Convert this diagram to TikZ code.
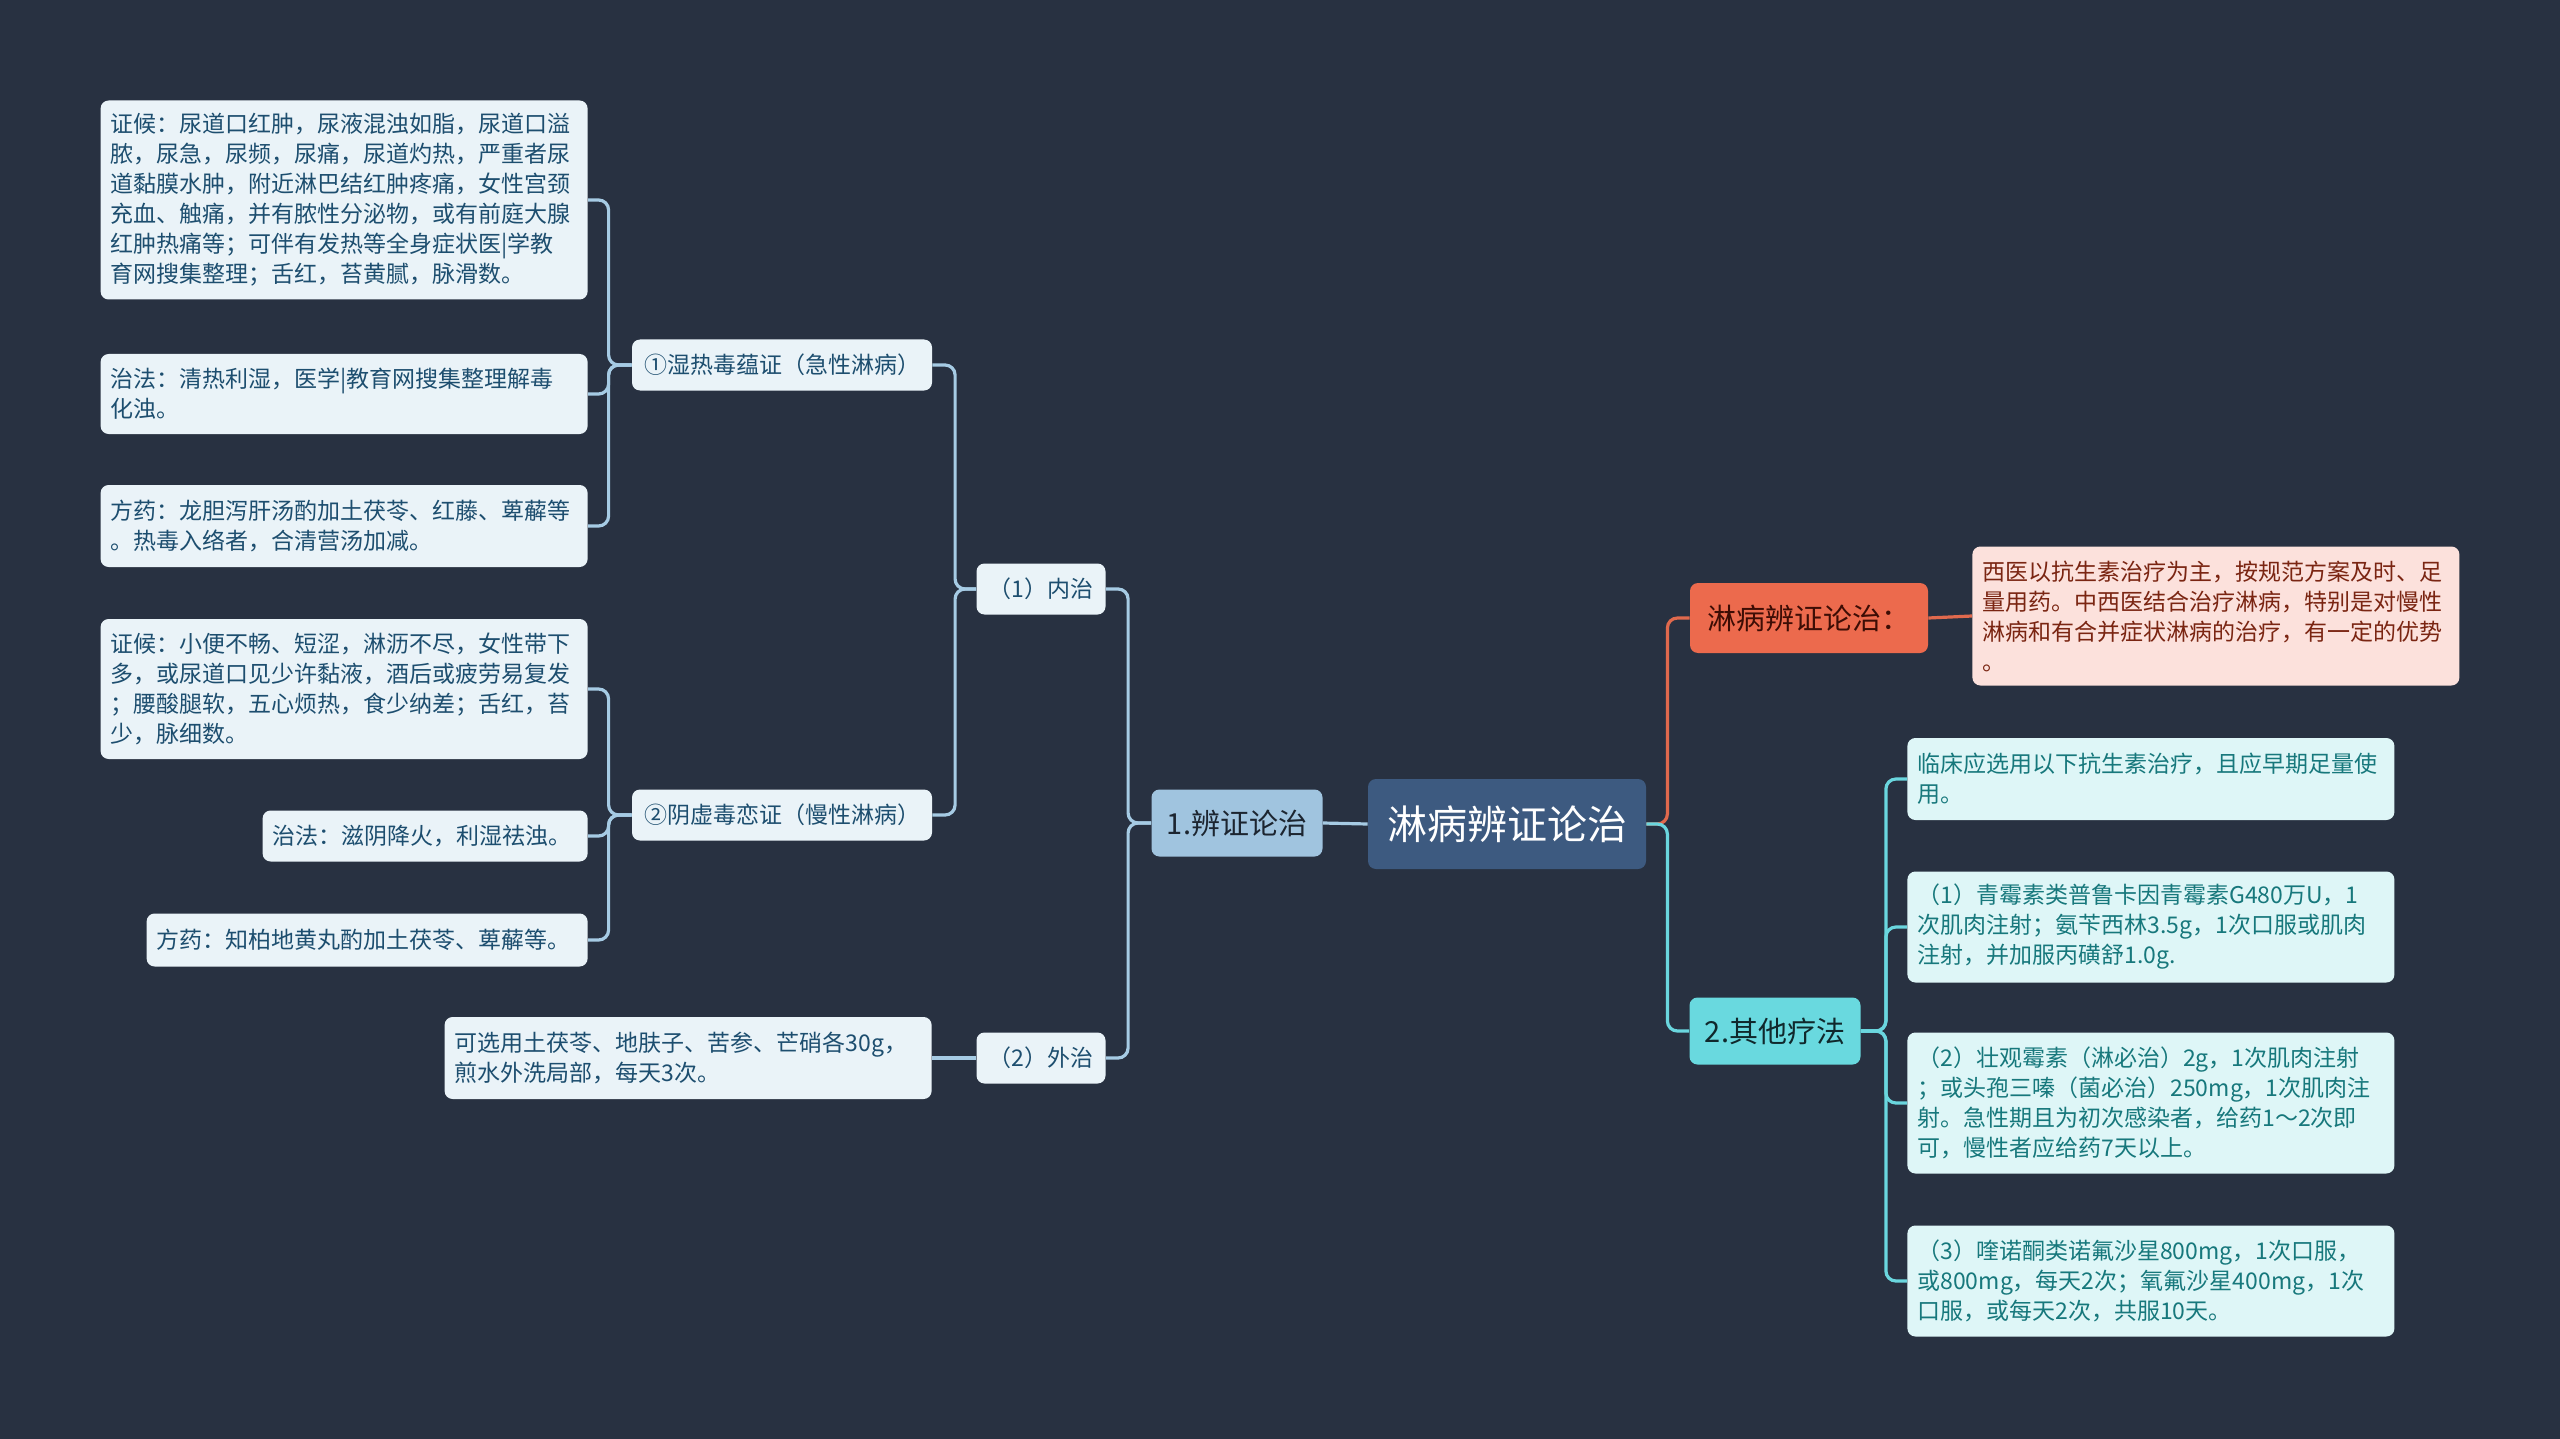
\documentclass[tikz,border=0pt]{standalone}
\usepackage{fontspec}
\setmainfont{Noto Sans CJK SC}
\usetikzlibrary{positioning}
\definecolor{bgcol}{HTML}{283141}
\definecolor{rootfill}{HTML}{3D5A80}
\definecolor{mainfill}{HTML}{A0C4DF}
\definecolor{maintext}{HTML}{1C2530}
\definecolor{leaffill}{HTML}{EAF3F8}
\definecolor{leaftext}{HTML}{1D4E6F}
\definecolor{linecol}{HTML}{A6CBE4}
\definecolor{orgfill}{HTML}{EC6A4D}
\definecolor{orgtext}{HTML}{3D0D05}
\definecolor{orgline}{HTML}{E0694D}
\definecolor{pinkfill}{HTML}{FCE1DC}
\definecolor{pinktext}{HTML}{7A2512}
\definecolor{cyanfill}{HTML}{69D9DF}
\definecolor{cyantext}{HTML}{10282C}
\definecolor{cyanline}{HTML}{6AD6DE}
\definecolor{tealfill}{HTML}{DEF6F7}
\definecolor{tealtext}{HTML}{17787C}
\tikzset{
  mmroot/.style  = {fill=rootfill, rounded corners=4pt, text=white,
                    font=\fontsize{20}{24}\selectfont, inner sep=0pt,
                    minimum width=139pt, minimum height=45pt},
  mmmain/.style  = {rounded corners=4pt, inner sep=0pt, minimum height=33.5pt,
                    font=\fontsize{14.5}{18}\selectfont},
  mmsub/.style   = {fill=leaffill, text=leaftext, rounded corners=4pt,
                    inner sep=0pt, minimum height=25.5pt,
                    font=\fontsize{11.5}{15}\selectfont},
  mmleaf/.style  = {fill=leaffill, text=leaftext, rounded corners=4pt,
                    inner xsep=5pt, inner ysep=4pt, align=left,
                    text width=233.5pt, font=\fontsize{11.5}{15}\selectfont},
  mmline/.style  = {line width=1.6pt, rounded corners=5pt, draw=linecol}
}

\begin{document}
\begin{tikzpicture}[x=0.5pt, y=-0.5pt]
  \fill[bgcol] (0,0) rectangle (2560,1439);
  \useasboundingbox (0,0) rectangle (2560,1439);

  % centre and first level
  \node[mmroot] (root) at (1507,824) {淋病辨证论治};
  \node[mmmain, fill=mainfill, text=maintext, minimum width=85.5pt] (bz) at (1237,823) {1.辨证论治};
  \node[mmmain, fill=orgfill, text=orgtext, minimum width=119pt, minimum height=35pt] (lb) at (1809,618) {淋病辨证论治：};
  \node[mmmain, fill=cyanfill, text=cyantext, minimum width=85.5pt] (qt) at (1775,1031) {2.其他疗法};

  % left branch
  \node[mmsub, minimum width=64.5pt] (nz) at (1041,589)  {（1）内治};
  \node[mmsub, minimum width=64.5pt] (wz) at (1041,1058) {（2）外治};
  \node[mmsub, minimum width=150pt]  (sr) at (782,365)  {①湿热毒蕴证（急性淋病）};
  \node[mmsub, minimum width=150pt]  (yx) at (782,815)  {②阴虚毒恋证（慢性淋病）};

  \node[mmleaf, anchor=east, minimum height=99.5pt] (srzh) at (588,200)
        {证候：尿道口红肿，尿液混浊如脂，尿道口溢\\
         脓，尿急，尿频，尿痛，尿道灼热，严重者尿\\
         道黏膜水肿，附近淋巴结红肿疼痛，女性宫颈\\
         充血、触痛，并有脓性分泌物，或有前庭大腺\\
         红肿热痛等；可伴有发热等全身症状医|学教\\
         育网搜集整理；舌红，苔黄腻，脉滑数。};
  \node[mmleaf, anchor=east, minimum height=40pt] (srzf) at (588,394)
        {治法：清热利湿，医学|教育网搜集整理解毒\\化浊。};
  \node[mmleaf, anchor=east, minimum height=41pt] (srfy) at (588,526)
        {方药：龙胆泻肝汤酌加土茯苓、红藤、萆薢等\\。热毒入络者，合清营汤加减。};

  \node[mmleaf, anchor=east, minimum height=70pt] (yxzh) at (588,689)
        {证候：小便不畅、短涩，淋沥不尽，女性带下\\
         多，或尿道口见少许黏液，酒后或疲劳易复发\\
         ；腰酸腿软，五心烦热，食少纳差；舌红，苔\\
         少，脉细数。};
  \node[mmleaf, anchor=east, text width=152.5pt, minimum height=25.5pt] (yxzf) at (588,836)
        {治法：滋阴降火，利湿祛浊。};
  \node[mmleaf, anchor=east, text width=210.5pt, minimum height=26.5pt] (yxfy) at (588,940)
        {方药：知柏地黄丸酌加土茯苓、萆薢等。};

  \node[mmleaf, anchor=east, minimum height=41pt] (wzxy) at (932,1058)
        {可选用土茯苓、地肤子、苦参、芒硝各30g，\\煎水外洗局部，每天3次。};

  % right branch
  \node[mmleaf, anchor=west, fill=pinkfill, text=pinktext, minimum height=69.5pt] (xy) at (1972,616)
        {西医以抗生素治疗为主，按规范方案及时、足\\
         量用药。中西医结合治疗淋病，特别是对慢性\\
         淋病和有合并症状淋病的治疗，有一定的优势\\
         。};

  \node[mmleaf, anchor=west, fill=tealfill, text=tealtext, minimum height=41pt] (lc) at (1907,779)
        {临床应选用以下抗生素治疗，且应早期足量使\\用。};
  \node[mmleaf, anchor=west, fill=tealfill, text=tealtext, minimum height=55.5pt] (qm) at (1907,927)
        {（1）青霉素类普鲁卡因青霉素G480万U，1\\
         次肌肉注射；氨苄西林3.5g，1次口服或肌肉\\
         注射，并加服丙磺舒1.0g.};
  \node[mmleaf, anchor=west, fill=tealfill, text=tealtext, minimum height=70.5pt] (zg) at (1907,1103)
        {（2）壮观霉素（淋必治）2g，1次肌肉注射\\
         ；或头孢三嗪（菌必治）250mg，1次肌肉注\\
         射。急性期且为初次感染者，给药1～2次即\\
         可，慢性者应给药7天以上。};
  \node[mmleaf, anchor=west, fill=tealfill, text=tealtext, minimum height=55.5pt] (kn) at (1907,1281)
        {（3）喹诺酮类诺氟沙星800mg，1次口服，\\
         或800mg，每天2次；氧氟沙星400mg，1次\\
         口服，或每天2次，共服10天。};

  % connectors
  \draw[mmline] (root.west) -- (bz.east);
  \draw[mmline] (bz.west) -- ++(-23,0) |- (nz.east);
  \draw[mmline] (bz.west) -- ++(-23,0) |- (wz.east);
  \draw[mmline] (nz.west) -- ++(-21,0) |- (sr.east);
  \draw[mmline] (nz.west) -- ++(-21,0) |- (yx.east);
  \draw[mmline] (sr.west) -- ++(-23,0) |- (srzh.east);
  \draw[mmline] (sr.west) -- ++(-23,0) |- (srzf.east);
  \draw[mmline] (sr.west) -- ++(-23,0) |- (srfy.east);
  \draw[mmline] (yx.west) -- ++(-23,0) |- (yxzh.east);
  \draw[mmline] (yx.west) -- ++(-23,0) |- (yxzf.east);
  \draw[mmline] (yx.west) -- ++(-23,0) |- (yxfy.east);
  \draw[mmline] (wz.west) -- (wzxy.east);

  \draw[mmline, draw=orgline]  (root.east) -- ++(21,0) |- (lb.west);
  \draw[mmline, draw=orgline]  (lb.east) -- (xy.west);
  \draw[mmline, draw=cyanline] (root.east) -- ++(21,0) |- (qt.west);
  \draw[mmline, draw=cyanline] (qt.east) -- ++(25,0) |- (lc.west);
  \draw[mmline, draw=cyanline] (qt.east) -- ++(25,0) |- (qm.west);
  \draw[mmline, draw=cyanline] (qt.east) -- ++(25,0) |- (zg.west);
  \draw[mmline, draw=cyanline] (qt.east) -- ++(25,0) |- (kn.west);
\end{tikzpicture}
\end{document}
